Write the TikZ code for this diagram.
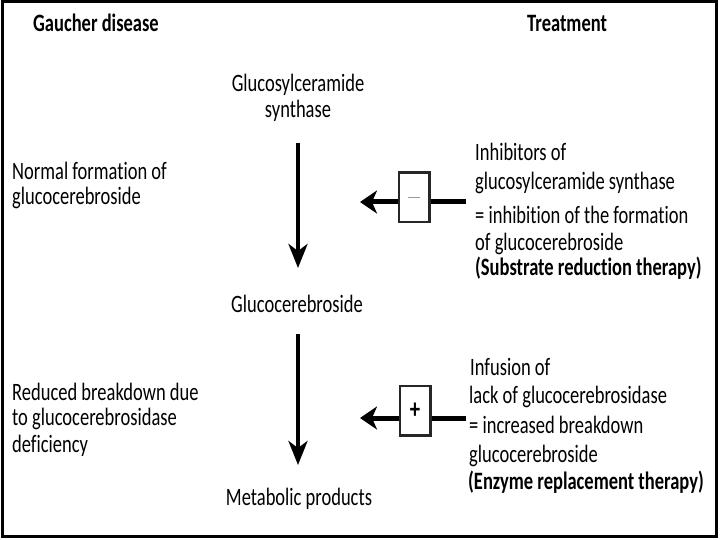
\documentclass[tikz,border=0pt]{standalone}
\usepackage{fontspec}
\setmainfont{Carlito}[FakeStretch=0.74, Ligatures=NoCommon]
\usetikzlibrary{arrows.meta}
\begin{document}
\begin{tikzpicture}[x=1pt,y=-1pt,
  txt/.style={anchor=base west, inner sep=0pt, font=\fontsize{25}{28}\selectfont},
  ctxt/.style={anchor=base, inner sep=0pt, font=\fontsize{25}{28}\selectfont},
  btxt/.style={anchor=base west, inner sep=0pt, font=\fontsize{25}{28}\selectfont\bfseries},
  varr/.style={line width=4pt, -{Stealth[length=24pt,width=19pt,inset=7pt]}},
  harr/.style={line width=5pt, -{Stealth[length=17pt,width=23pt,inset=5pt]}},
  hline/.style={line width=5pt},
  sbox/.style={draw=black!85, line width=2.5pt, minimum width=30.5pt, minimum height=49.5pt, inner sep=0pt, fill=white}
]
\useasboundingbox (0,0) rectangle (720,540);
\draw[line width=3pt] (2,2) rectangle (716,536);

% headers
\node[btxt] (hdrA) at (33,32) {Gaucher disease};
\node[btxt] (hdrB) at (527,32) {Treatment};

% centre column
\node[ctxt] (gsA) at (298,92) {Glucosylceramide};
\node[ctxt] (gsB) at (298,118) {synthase};
\node[ctxt] (gcb) at (297,312) {Glucocerebroside};
\node[ctxt] (met) at (299,505) {Metabolic products};

\coordinate (vAs) at (298,143);
\coordinate (vAe) at (298,268);
\coordinate (vBs) at (298,334);
\coordinate (vBe) at (298,465);
\draw[varr] (vAs) -- (vAe);
\draw[varr] (vBs) -- (vBe);

% left column
\node[txt] (lA) at (12,180) {Normal formation of};
\node[txt] (lB) at (12,205) {glucocerebroside};
\node[txt] (lC) at (12,400) {Reduced breakdown due};
\node[txt] (lD) at (12,425) {to glucocerebrosidase};
\node[txt] (lE) at (12,452) {deficiency};

% right column, upper
\node[txt] (rA) at (475,161) {Inhibitors of};
\node[txt] (rB) at (475,190) {glucosylceramide synthase};
\node[txt] (rC) at (475,223) {= inhibition of the formation};
\node[txt] (rD) at (475,250) {of glucocerebroside};
\node[btxt] (rE) at (475,275) {(Substrate reduction therapy)};

% right column, lower
\node[txt] (sA) at (470,375) {Infusion of};
\node[txt] (sB) at (469,403) {lack of glucocerebrosidase};
\node[txt] (sC) at (469,433) {= increased breakdown};
\node[txt] (sD) at (469,462) {glucocerebroside};
\node[btxt] (sE) at (468,489) {(Enzyme replacement therapy)};

% boxes
\node[sbox] (bm) at (414.4,197.5) {};
\node[sbox] (bp) at (415,410.5) {};
\draw[line width=1.6pt, gray!80] ([xshift=-6pt]bm.center) -- ([xshift=6pt]bm.center);
\node[inner sep=0pt, font=\fontsize{28}{30}\selectfont\bfseries] (plus) at (bp.center) {+};

\coordinate (tipA) at (360,202);
\coordinate (endA) at (466,202);
\coordinate (tipB) at (360,418);
\coordinate (endB) at (466,418);
\draw[harr] (bm.west |- tipA) -- (tipA);
\draw[hline] (bm.east |- endA) -- (endA);
\draw[harr] (bp.west |- tipB) -- (tipB);
\draw[hline] (bp.east |- endB) -- (endB);
\end{tikzpicture}
\end{document}
